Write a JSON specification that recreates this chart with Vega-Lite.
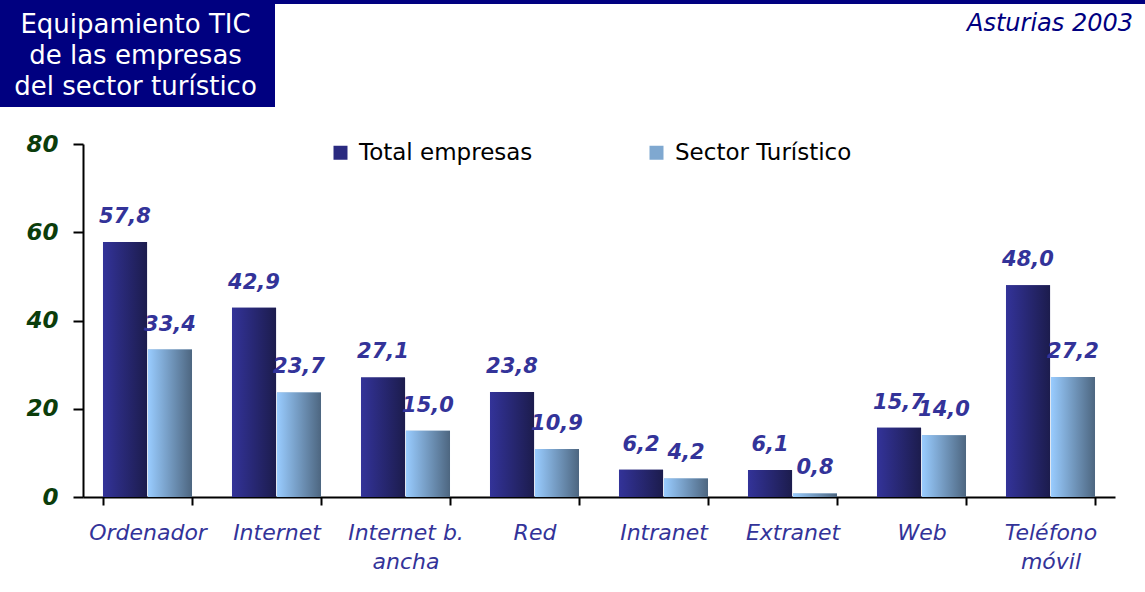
{
  "$schema": "https://vega.github.io/schema/vega-lite/v6.json",
  "padding": 0,
  "background": "white",
  "columns": 1,
  "align": "none",
  "spacing": 26,
  "config": {
    "font": "DejaVu Sans",
    "view": {"stroke": null},
    "locale": {"number": {"decimal": ",", "thousands": ".", "grouping": [3], "currency": ["", " €"]}},
    "concat": {"spacing": 0}
  },
  "concat": [
    {
      "hconcat": [
        {
          "width": 275,
          "height": 107,
          "view": {"fill": "#000080", "stroke": null},
          "data": {"values": [{"titulo": ["Equipamiento TIC", "de las empresas", "del sector turístico"]}]},
          "mark": {"type": "text", "color": "white", "fontSize": 26, "lineHeight": 31, "align": "center", "baseline": "middle", "dx": -2, "dy": -29},
          "encoding": {"text": {"field": "titulo"}}
        },
        {
          "vconcat": [
            {
              "width": 870,
              "height": 4,
              "view": {"fill": "#000080", "stroke": null},
              "data": {"values": [{"t": ""}]},
              "mark": {"type": "text", "fontSize": 1},
              "encoding": {"text": {"field": "t"}}
            },
            {
              "width": 870,
              "height": 30,
              "data": {"values": [{"t": "Asturias 2003", "pos": 1}]},
              "mark": {"type": "text", "color": "#000080", "fontSize": 24, "fontStyle": "italic", "align": "right", "baseline": "middle", "dx": -12, "dy": 5},
              "encoding": {
                "text": {"field": "t"},
                "x": {"field": "pos", "type": "quantitative", "scale": {"domain": [0, 1]}, "axis": null}
              }
            }
          ],
          "spacing": 0
        }
      ],
      "spacing": 0
    },
    {
      "width": 1115,
      "height": 353,
      "data": {
        "values": [
          {"categoria": "Ordenador", "serie": "Total empresas", "valor": 57.8},
          {"categoria": "Ordenador", "serie": "Sector Turístico", "valor": 33.4},
          {"categoria": "Internet", "serie": "Total empresas", "valor": 42.9},
          {"categoria": "Internet", "serie": "Sector Turístico", "valor": 23.7},
          {"categoria": "Internet b. ancha", "serie": "Total empresas", "valor": 27.1},
          {"categoria": "Internet b. ancha", "serie": "Sector Turístico", "valor": 15.0},
          {"categoria": "Red", "serie": "Total empresas", "valor": 23.8},
          {"categoria": "Red", "serie": "Sector Turístico", "valor": 10.9},
          {"categoria": "Intranet", "serie": "Total empresas", "valor": 6.2},
          {"categoria": "Intranet", "serie": "Sector Turístico", "valor": 4.2},
          {"categoria": "Extranet", "serie": "Total empresas", "valor": 6.1},
          {"categoria": "Extranet", "serie": "Sector Turístico", "valor": 0.8},
          {"categoria": "Web", "serie": "Total empresas", "valor": 15.7},
          {"categoria": "Web", "serie": "Sector Turístico", "valor": 14.0},
          {"categoria": "Teléfono móvil", "serie": "Total empresas", "valor": 48.0},
          {"categoria": "Teléfono móvil", "serie": "Sector Turístico", "valor": 27.2}
        ]
      },
      "encoding": {
        "x": {
          "field": "categoria", "type": "nominal", "sort": null,
          "scale": {"paddingInner": 0.31, "paddingOuter": 0.155, "range": [83, 1115]},
          "axis": {
            "title": null, "labelAngle": 0, "tickBand": "extent", "tickSize": 8, "tickWidth": 2, "tickColor": "black",
            "domainColor": "black", "domainWidth": 2, "labelFontSize": 22, "labelFontStyle": "italic",
            "labelColor": "#333399", "labelPadding": 17, "labelLineHeight": 29,
            "labelExpr": "datum.value == 'Internet b. ancha' ? ['Internet b.', 'ancha'] : datum.value == 'Teléfono móvil' ? ['Teléfono', 'móvil'] : datum.value"
          }
        },
        "xOffset": {"field": "serie", "type": "nominal", "sort": ["Total empresas", "Sector Turístico"], "scale": {"paddingInner": 0.02}},
        "y": {
          "field": "valor", "type": "quantitative",
          "scale": {"domain": [0, 80], "nice": false},
          "axis": {
            "title": null, "grid": false, "values": [0, 20, 40, 60, 80], "tickSize": 10, "tickWidth": 2, "tickColor": "black",
            "domainColor": "black", "domainWidth": 2, "labelFontSize": 23, "labelFontWeight": "bold", "labelFontStyle": "italic",
            "labelColor": "#0b3d0b", "labelPadding": 15, "offset": -83
          }
        }
      },
      "layer": [
        {
          "mark": {"type": "bar"},
          "encoding": {
            "color": {
              "field": "serie", "type": "nominal", "sort": ["Total empresas", "Sector Turístico"],
              "scale": {"range": ["#2a2a80", "#7fa8d0"]},
              "legend": {
                "title": null, "orient": "none", "legendX": 329, "legendY": 141, "direction": "horizontal",
                "labelFontSize": 23, "labelColor": "black", "labelLimit": 0, "symbolType": "square", "symbolSize": 196,
                "symbolStrokeWidth": 0, "labelOffset": 7, "columnPadding": 112, "symbolOpacity": 1,
                "encode": {
                  "symbols": {
                    "update": {
                      "fill": [
                        {"test": "datum.value === 'Total empresas'", "value": {"gradient": "linear", "x1": 0, "y1": 0, "x2": 1, "y2": 0, "stops": [{"offset": 0, "color": "#333399"}, {"offset": 1, "color": "#1c1c4d"}]}},
                        {"value": {"gradient": "linear", "x1": 0, "y1": 0, "x2": 1, "y2": 0, "stops": [{"offset": 0, "color": "#99ccff"}, {"offset": 1, "color": "#4d6680"}]}}
                      ]
                    }
                  }
                }
              }
            }
          }
        },
        {
          "transform": [{"filter": "datum.serie === 'Total empresas'"}],
          "mark": {"type": "bar", "color": {"gradient": "linear", "x1": 0, "y1": 0, "x2": 1, "y2": 0, "stops": [{"offset": 0, "color": "#333399"}, {"offset": 1, "color": "#1c1c4d"}]}}
        },
        {
          "transform": [{"filter": "datum.serie === 'Sector Turístico'"}],
          "mark": {"type": "bar", "color": {"gradient": "linear", "x1": 0, "y1": 0, "x2": 1, "y2": 0, "stops": [{"offset": 0, "color": "#99ccff"}, {"offset": 1, "color": "#4d6680"}]}}
        },
        {
          "mark": {"type": "text", "color": "#333399", "fontSize": 21, "fontWeight": "bold", "fontStyle": "italic", "baseline": "alphabetic", "dy": -19},
          "encoding": {"text": {"field": "valor", "type": "quantitative", "format": ".1f"}}
        }
      ]
    }
  ]
}
